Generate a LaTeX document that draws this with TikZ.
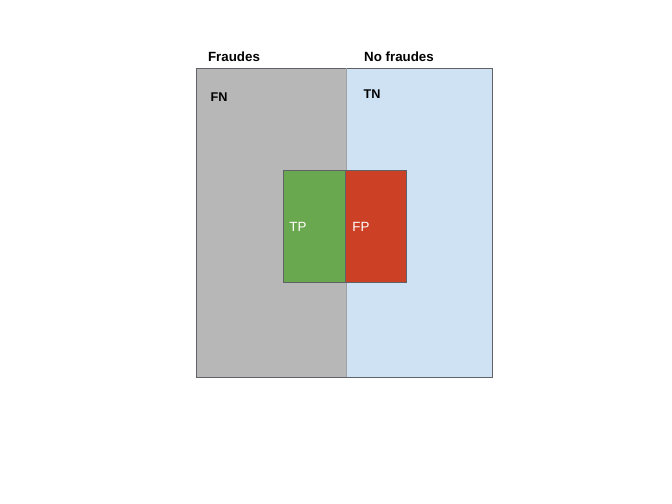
\documentclass[tikz,border=0pt]{standalone}
\usepackage{fontspec}
\setmainfont{Liberation Sans}
\usetikzlibrary{positioning}
\definecolor{fraudgray}{HTML}{B7B7B7}
\definecolor{nofraudblue}{HTML}{CFE2F3}
\definecolor{tpgreen}{HTML}{6AA84F}
\definecolor{fpred}{HTML}{CC4125}
\definecolor{edgegray}{HTML}{5F6368}

\begin{document}
\begin{tikzpicture}[x=0.75pt,y=-0.75pt,
    head/.style={font=\bfseries\fontsize{10}{12}\selectfont},
    cell/.style={font=\bfseries\fontsize{9.5}{11}\selectfont},
    inner/.style={font=\fontsize{10}{12}\selectfont, text=white}]
    \useasboundingbox (0, 0) rectangle (672, 504);
    % actual classes
    \fill[fraudgray] (196, 68) rectangle (346, 377);
    \fill[nofraudblue] (346, 68) rectangle (492, 377);
    \draw[edgegray, line width=0.6pt] (196, 68) rectangle (492, 377);
    \draw[edgegray!60, line width=0.6pt] (346, 68) -- (346, 377);
    \node[head] (fraudes) at (234, 57) {Fraudes};
    \node[head] (nofraudes) at (399, 57) {No fraudes};
    \node[cell] (fn) at (219, 97) {FN};
    \node[cell] (tn) at (372, 94) {TN};

    % predicted as fraud
    \fill[tpgreen] (283, 170) rectangle (345, 282);
    \fill[fpred] (345, 170) rectangle (406, 282);
    \draw[edgegray, line width=0.6pt] (283, 170) rectangle (406, 282);
    \draw[edgegray, line width=0.6pt] (345, 170) -- (345, 282);
    \node[inner] (tp) at (298, 227) {TP};
    \node[inner] (fp) at (361, 227) {FP};
\end{tikzpicture}
\end{document}
